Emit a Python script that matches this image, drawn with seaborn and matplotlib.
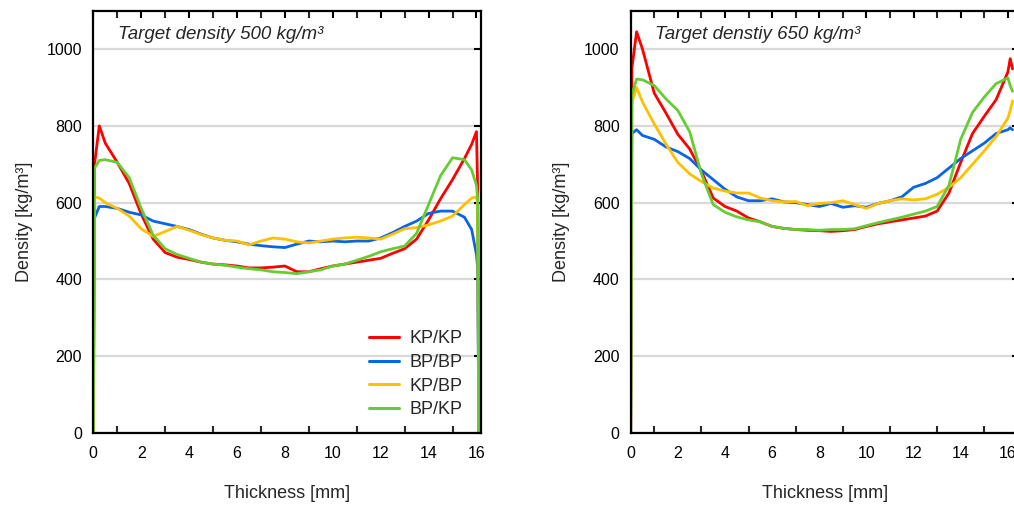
import numpy as np
import pandas as pd
import matplotlib
matplotlib.use("Agg")
import matplotlib.pyplot as plt
from matplotlib.ticker import MultipleLocator
import seaborn as sns

# ---------------- data ----------------
SERIES = ["KP/KP", "BP/BP", "KP/BP", "BP/KP"]
COLORS = {"KP/KP": "#ff0000", "BP/BP": "#0a64e6", "KP/BP": "#ffc000", "BP/KP": "#66cc33"}

# Left panel: target density 500 kg/m3
X_LEFT = [0.0, 0.05, 0.25, 0.5, 1.0, 1.5, 2.0, 2.5, 3.0, 3.5, 4.0, 4.5, 5.0, 5.5,
          6.0, 6.5, 7.0, 7.5, 8.0, 8.5, 9.0, 9.5, 10.0, 10.5, 11.0, 11.5, 12.0,
          12.5, 13.0, 13.5, 14.0, 14.5, 15.0, 15.5, 15.8, 16.0, 16.05, 16.1]
L_KPKP = [0, 700, 800, 755, 705, 650, 570, 505, 470, 458, 452, 445, 440, 438,
          435, 430, 430, 432, 435, 420, 420, 428, 435, 440, 445, 450, 455,
          468, 480, 505, 555, 610, 660, 715, 752, 785, 640, 0]
L_BPBP = [0, 560, 590, 590, 585, 575, 568, 552, 545, 538, 530, 518, 508, 502,
          498, 492, 488, 485, 483, 492, 500, 498, 500, 498, 500, 500, 508,
          522, 538, 552, 572, 578, 578, 562, 530, 465, 430, 0]
L_KPBP = [0, 615, 612, 600, 585, 565, 532, 512, 525, 538, 528, 517, 508, 502,
          500, 490, 500, 508, 505, 498, 495, 500, 505, 508, 510, 508, 505,
          518, 532, 535, 542, 552, 565, 595, 612, 615, 600, 0]
L_BPKP = [0, 690, 710, 712, 705, 665, 585, 515, 480, 465, 455, 445, 440, 437,
          432, 428, 425, 420, 418, 415, 420, 425, 435, 440, 450, 460, 472,
          480, 487, 520, 595, 670, 717, 712, 685, 645, 610, 0]

# Right panel: target density 650 kg/m3
X_RIGHT = [0.0, 0.05, 0.25, 0.5, 1.0, 1.5, 2.0, 2.5, 3.0, 3.5, 4.0, 4.5, 5.0,
           5.5, 6.0, 6.5, 7.0, 7.5, 8.0, 8.5, 9.0, 9.5, 10.0, 10.5, 11.0, 11.5,
           12.0, 12.5, 13.0, 13.5, 14.0, 14.5, 15.0, 15.5, 16.0, 16.1, 16.2]
R_KPKP = [0, 950, 1045, 1000, 885, 833, 778, 740, 682, 612, 590, 578, 560,
          550, 538, 533, 530, 528, 527, 525, 527, 530, 538, 545, 550, 555,
          560, 565, 578, 625, 705, 780, 825, 868, 940, 975, 948]
R_BPBP = [0, 780, 790, 775, 765, 745, 733, 715, 685, 660, 635, 615, 605,
          605, 610, 602, 600, 595, 590, 598, 588, 592, 588, 598, 605, 615,
          640, 650, 665, 690, 715, 735, 755, 780, 790, 795, 790]
R_KPBP = [0, 860, 900, 862, 805, 752, 705, 675, 655, 638, 630, 625, 625,
          612, 605, 602, 603, 592, 598, 600, 605, 595, 585, 598, 605, 610,
          607, 610, 622, 640, 665, 700, 735, 772, 820, 840, 865]
R_BPKP = [0, 880, 922, 920, 905, 870, 840, 785, 675, 595, 575, 563, 555,
          550, 538, 533, 530, 530, 528, 530, 530, 532, 540, 548, 555, 562,
          570, 578, 590, 645, 765, 835, 875, 910, 925, 905, 890]

Y_TICKS = [0, 200, 400, 600, 800, 1000]
X_TICKS = [0, 2, 4, 6, 8, 10, 12, 14, 16]
TITLE_LEFT = "Target density 500 kg/m³"
TITLE_RIGHT = "Target denstiy 650 kg/m³"
XLABEL = "Thickness [mm]"
YLABEL = "Density [kg/m³]"


def long_frame(x, cols):
    parts = []
    for name, vals in zip(SERIES, cols):
        parts.append(pd.DataFrame({"x": x, "y": vals, "series": name}))
    return pd.concat(parts, ignore_index=True)


df_left = long_frame(X_LEFT, [L_KPKP, L_BPBP, L_KPBP, L_BPKP])
df_right = long_frame(X_RIGHT, [R_KPKP, R_BPBP, R_KPBP, R_BPKP])

# ---------------- styling ----------------
sns.set_style("white")
plt.rcParams["font.family"] = ["Liberation Sans", "DejaVu Sans"]
plt.rcParams["axes.linewidth"] = 1.6

W, H = 1014, 507
fig = plt.figure(figsize=(W / 100, H / 100), dpi=100)

ax_h = (433 - 10.7) / H
ax_b = (H - 433) / H
axL = fig.add_axes([93.3 / W, ax_b, 387.7 / W, ax_h])
axR = fig.add_axes([630.7 / W, ax_b, 388 / W, ax_h])


def style_axis(ax, xmax, title, title_x):
    ax.set_xlim(0, xmax)
    ax.set_ylim(0, 1100)
    ax.set_yticks(Y_TICKS)
    ax.set_xticks(X_TICKS)
    ax.xaxis.set_minor_locator(MultipleLocator(1))
    ax.yaxis.grid(True, color="#d9d9d9", lw=1.6)
    ax.xaxis.grid(False)
    ax.set_axisbelow(True)
    for s in ax.spines.values():
        s.set_color("black")
        s.set_linewidth(1.6)
    ax.tick_params(axis="both", which="major", direction="in", length=5, width=1.5,
                   top=True, right=True, labelsize=11.5, colors="black")
    ax.tick_params(axis="x", which="major", pad=9)
    ax.tick_params(axis="y", which="major", pad=8)
    ax.tick_params(axis="x", which="minor", direction="in", length=5, width=1.5,
                   top=True, bottom=True)
    ax.set_xlabel(XLABEL, fontsize=13, labelpad=18)
    ax.set_ylabel(YLABEL, fontsize=13, labelpad=10)
    ax.text(title_x, 0.9425, title, transform=ax.transAxes, fontsize=13.5,
            style="italic", va="center", ha="left")


sns.lineplot(data=df_left, x="x", y="y", hue="series", hue_order=SERIES,
             palette=COLORS, estimator=None, sort=False, lw=2.0, ax=axL, legend=True)
sns.lineplot(data=df_right, x="x", y="y", hue="series", hue_order=SERIES,
             palette=COLORS, estimator=None, sort=False, lw=2.0, ax=axR, legend=False)

style_axis(axL, 16.19, TITLE_LEFT, 0.0645)
style_axis(axR, 16.46, TITLE_RIGHT, 0.0626)

handles, labels = axL.get_legend_handles_labels()
axL.legend(handles, labels, loc="upper left", bbox_to_anchor=(0.712, 0.243),
           frameon=False, fontsize=13, handlelength=1.67, handletextpad=0.55,
           labelspacing=0.37, borderpad=0, borderaxespad=0)
for line in axL.get_legend().get_lines():
    line.set_linewidth(2.2)

fig.savefig("out.png", dpi=100)
